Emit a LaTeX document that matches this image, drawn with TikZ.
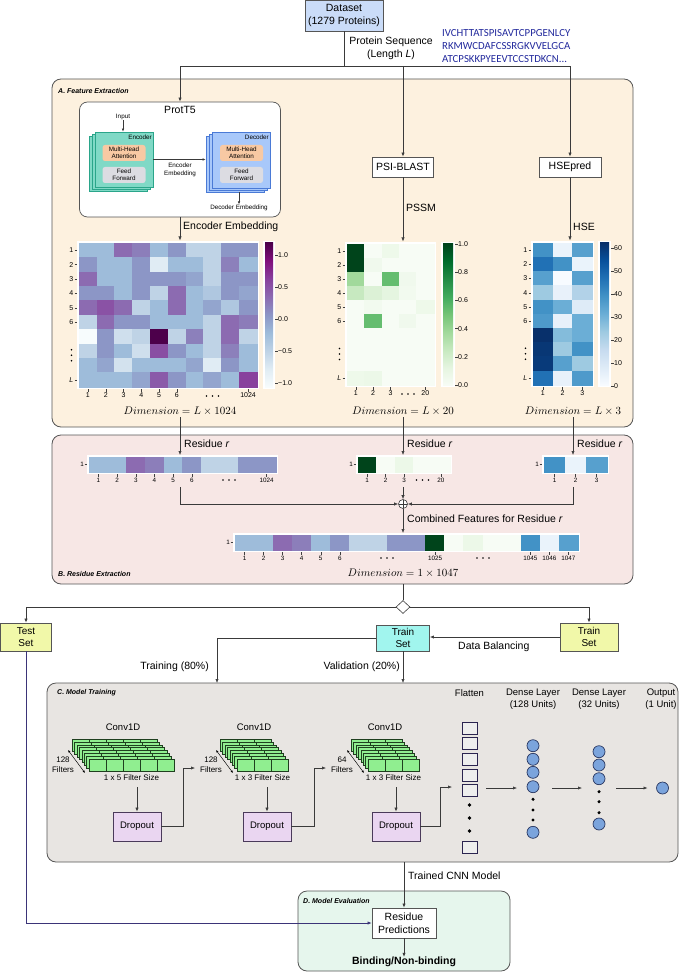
\documentclass[tikz,border=0pt]{standalone}
\usepackage{fontspec}
\setmainfont{Liberation Sans}
\newfontfamily\seqfont{Carlito}
\usetikzlibrary{arrows.meta,calc,positioning,shapes.geometric}

\definecolor{linegray}{HTML}{3A3A3A}
\definecolor{boxgray}{HTML}{555555}
\definecolor{featfill}{HTML}{FDF1DF}
\definecolor{resfill}{HTML}{F7E7E5}
\definecolor{trainfill}{HTML}{E8E5E2}
\definecolor{evalfill}{HTML}{E6F6ED}
\definecolor{datafill}{HTML}{CADCF8}
\definecolor{seqblue}{HTML}{22299C}
\definecolor{encfill}{HTML}{80D9C6}
\definecolor{encdraw}{HTML}{2AA58A}
\definecolor{decfill}{HTML}{A8C8FA}
\definecolor{decdraw}{HTML}{4A7AD6}
\definecolor{attfill}{HTML}{F8C9A3}
\definecolor{ffwfill}{HTML}{DCDCE2}
\definecolor{setfill}{HTML}{F1F8A9}
\definecolor{balfill}{HTML}{A1F5EE}
\definecolor{convfill}{HTML}{90EE90}
\definecolor{convdraw}{HTML}{1F3F1F}
\definecolor{dropfill}{HTML}{EAD6F1}
\definecolor{dropdraw}{HTML}{4A3A5A}
\definecolor{unitfill}{HTML}{7BA4DC}
\definecolor{unitdraw}{HTML}{283660}
\definecolor{flatfill}{HTML}{EEEEEE}
\definecolor{flatdraw}{HTML}{2B2450}
\definecolor{testline}{HTML}{3B3478}
% heat map colours
\definecolor{bp0}{HTML}{F7FCFD}\definecolor{bp1}{HTML}{E0ECF4}\definecolor{bp2}{HTML}{BFD3E6}
\definecolor{bp3}{HTML}{9EBCDA}\definecolor{bp4}{HTML}{8C96C6}\definecolor{bp5}{HTML}{8C6BB1}
\definecolor{bp6}{HTML}{88419D}\definecolor{bp7}{HTML}{810F7C}\definecolor{bp8}{HTML}{4D004B}
\definecolor{gn0}{HTML}{F7FCF5}\definecolor{gn1}{HTML}{E5F5E0}\definecolor{gn2}{HTML}{C7E9C0}
\definecolor{gn3}{HTML}{A1D99B}\definecolor{gn4}{HTML}{74C476}\definecolor{gn5}{HTML}{41AB5D}
\definecolor{gn6}{HTML}{238B45}\definecolor{gn7}{HTML}{006D2C}\definecolor{gn8}{HTML}{00441B}
\definecolor{bl0}{HTML}{F7FBFF}\definecolor{bl1}{HTML}{DEEBF7}\definecolor{bl2}{HTML}{C6DBEF}
\definecolor{bl3}{HTML}{9ECAE1}\definecolor{bl4}{HTML}{6BAED6}\definecolor{bl5}{HTML}{4292C6}
\definecolor{bl6}{HTML}{2171B5}\definecolor{bl7}{HTML}{08519C}\definecolor{bl8}{HTML}{08306B}

\pgfdeclareverticalshading{bupubar}{100bp}{color(0bp)=(bp0); color(25bp)=(bp0); color(31.25bp)=(bp1); color(37.5bp)=(bp2); color(43.75bp)=(bp3); color(50bp)=(bp4); color(56.25bp)=(bp5); color(62.5bp)=(bp6); color(68.75bp)=(bp7); color(75bp)=(bp8); color(100bp)=(bp8)}
\pgfdeclareverticalshading{greenbar}{100bp}{color(0bp)=(gn0); color(25bp)=(gn0); color(31.25bp)=(gn1); color(37.5bp)=(gn2); color(43.75bp)=(gn3); color(50bp)=(gn4); color(56.25bp)=(gn5); color(62.5bp)=(gn6); color(68.75bp)=(gn7); color(75bp)=(gn8); color(100bp)=(gn8)}
\pgfdeclareverticalshading{bluebar}{100bp}{color(0bp)=(bl0); color(25bp)=(bl0); color(31.25bp)=(bl1); color(37.5bp)=(bl2); color(43.75bp)=(bl3); color(50bp)=(bl4); color(56.25bp)=(bl5); color(62.5bp)=(bl6); color(68.75bp)=(bl7); color(75bp)=(bl8); color(100bp)=(bl8)}

\tikzset{
  arr/.style={-{Latex[length=4pt,width=3.2pt]}, draw=linegray, line width=0.6pt},
  smallarr/.style={-{Latex[length=3pt,width=2.5pt]}, draw=linegray, line width=0.5pt},
  dblarr/.style={{Latex[length=2.6pt,width=2.2pt]}-{Latex[length=2.6pt,width=2.2pt]}, line width=0.45pt},
  conn/.style={draw=linegray, line width=0.6pt},
  stage/.style={draw=boxgray, line width=0.8pt, rounded corners=9pt},
  stagelbl/.style={anchor=west, inner sep=0pt, font=\fontsize{7}{8}\selectfont\bfseries\itshape},
  lbl/.style={inner sep=0pt, align=center, font=\fontsize{10.5}{13}\selectfont},
  midlbl/.style={inner sep=0pt, align=center, font=\fontsize{9.5}{12}\selectfont},
  smalllbl/.style={inner sep=0pt, align=center, font=\fontsize{8}{10}\selectfont},
  tinylbl/.style={inner sep=0pt, align=center, font=\fontsize{6.3}{7.3}\selectfont},
  dimlbl/.style={inner sep=2pt, font=\fontsize{11}{13}\selectfont},
  box/.style={draw=boxgray, line width=0.7pt, inner sep=0pt, align=center, font=\fontsize{10.5}{13}\selectfont},
  setbox/.style={box, font=\fontsize{10}{12.5}\selectfont},
  sublayer/.style={rounded corners=2.5pt, minimum width=43, minimum height=16, inner sep=0pt, align=center, font=\fontsize{6.3}{7.3}\selectfont},
  encbox/.style={draw=encdraw, fill=encfill, line width=0.8pt, minimum width=58, minimum height=55, inner sep=0pt},
  decbox/.style={draw=decdraw, fill=decfill, line width=0.8pt, minimum width=58, minimum height=56, inner sep=0pt},
  convcell/.style={draw=convdraw, fill=convfill, line width=0.45pt},
  dropbox/.style={draw=dropdraw, fill=dropfill, line width=0.7pt, minimum width=48, minimum height=29, inner sep=0pt, font=\fontsize{9.5}{12}\selectfont},
  flatbox/.style={draw=flatdraw, fill=flatfill, line width=0.7pt, minimum width=15, minimum height=12, inner sep=0pt},
  unitnode/.style={circle, draw=unitdraw, fill=unitfill, line width=0.7pt, minimum size=12, inner sep=0pt},
  tickline/.style={draw=black!75, line width=0.4pt},
  ticklbl/.style={inner sep=0pt, font=\fontsize{7}{8}\selectfont},
  bartick/.style={inner sep=0pt, font=\fontsize{6.3}{7}\selectfont},
}

% cells of a heat map: left, top, cell width, cell height, rows of colours
\newcommand{\heatcells}[5]{%
  \foreach \crow [count=\j] in {#5} {
    \foreach \ccol [count=\i] in \crow
      \path[fill=\ccol,draw=\ccol,line width=0.25pt] ({#1+(\i-1)*#3},{#2+(\j-1)*#4}) rectangle ++(#3,#4);
  }}
\newcommand{\vdotsat}[2]{\foreach \k in {-1,0,1} \fill ({#1},{#2+\k*5.5}) circle (0.9);}
\newcommand{\hdotsat}[2]{\foreach \k in {-1,0,1} \fill ({#1+\k*6},{#2}) circle (0.9);}
% row ticks: prefix, left of cells, top, row height
\newcommand{\rowticks}[4]{%
  \foreach \r/\t in {1/1,2/2,3/3,4/4,5/5,6/6,10/\textit{L}} {
    \draw[tickline] ({#2-4.5},{#3+(\r-0.5)*#4}) -- ++(2.5,0);
    \node[ticklbl,anchor=east] (#1r\r) at ({#2-5.5},{#3+(\r-0.5)*#4}) {\t};
  }
  \vdotsat{#2-7.5}{#3+7.8*#4}}
% column ticks: [style] prefix, left of cells, bottom of frame, cell width, list
\newcommand{\colticks}[6][ticklbl]{%
  \foreach \c/\t in {#6} {
    \draw[tickline] ({#3+(\c-0.5)*#5},#4) -- ++(0,2.5);
    \node[#1,anchor=north] (#2c\c) at ({#3+(\c-0.5)*#5},{#4+3.5}) {\t};
  }}

\begin{document}
\begin{tikzpicture}[x=1pt,y=-1pt]
\useasboundingbox (0,0) rectangle (685,973);

% stage frames
\draw[stage,fill=featfill] (52,79) rectangle (633,427);
\draw[stage,fill=resfill] (52,435) rectangle (633,584);
\draw[stage,fill=trainfill] (47,683) rectangle (678,862);
\draw[stage,fill=evalfill] (298,891) rectangle (510,971);
\node[stagelbl] (stageA) at (58,91) {A. Feature Extraction};
\node[stagelbl] (stageB) at (58,574) {B. Residue Extraction};
\node[stagelbl] (stageC) at (57,693) {C. Model Training};
\node[stagelbl] (stageD) at (303,901) {D. Model Evaluation};

% dataset
\node[box,fill=datafill,minimum width=78,minimum height=31] (data) at (344,15.5) {Dataset\\(1279 Proteins)};
\node[lbl] (seqlbl) at (391,48.5) {Protein Sequence\\(Length \textit{L})};
\node[anchor=west,inner sep=0pt,align=left,text=seqblue,font=\seqfont\fontsize{10.8}{13}\selectfont] (seq) at (442,46.5) {IVCHTTATSPISAVTCPPGENLCY\\RKMWCDAFCSSRGKVVELGCA\\ATCPSKKPYEEVTCCSTDKCN...};
\coordinate (fork) at (344,66);

% A. feature extraction
\node[draw=boxgray,fill=white,line width=0.7pt,rounded corners=8pt,minimum width=201,minimum height=115] (prot) at (180,159.5) {};
\node[lbl] (protname) at (180,110) {ProtT5};
\node[box,fill=white,minimum width=61,minimum height=20] (psi) at (403,167) {PSI-BLAST};
\node[box,fill=white,minimum width=62,minimum height=20] (hsepred) at (570,167) {HSEpred};
\draw[conn] (data.south) -- (fork);
\draw[arr] (fork) -| (prot.north);
\draw[arr] (fork) -| (hsepred.north);
\draw[arr] (psi.north |- fork) -- (psi.north);

% encoder and decoder
\foreach \k in {2,1}
  \node[encbox] (enc\k) at ({124-3*\k},{159.5+2*\k}) {};
\node[encbox] (enc) at (124,159.5) {};
\node[tinylbl,anchor=north east] (enclbl) at (152,134.5) {Encoder};
\node[sublayer,fill=attfill] (encatt) at (124,153) {Multi-Head\\Attention};
\node[sublayer,fill=ffwfill] (encff) at (124,175) {Feed\\Forward};
\foreach \k in {2,1}
  \node[decbox] (dec\k) at ({241-3*\k},{160+2*\k}) {};
\node[decbox] (dec) at (241,160) {};
\node[tinylbl,anchor=north east] (declbl) at (269,134.5) {Decoder};
\node[sublayer,fill=attfill] (decatt) at (241.5,153) {Multi-Head\\Attention};
\node[sublayer,fill=ffwfill] (decff) at (241.5,175) {Feed\\Forward};
\node[tinylbl] (input) at (123,117) {Input};
\draw[smallarr] (input.south) -- (input.south |- enc.north);
\draw[smallarr] (enc.east) -- (enc.east -| dec2.west);
\node[tinylbl] (encemb) at (180,170) {Encoder\\Embedding};
\node[tinylbl] (decemb) at (239,207.5) {Decoder Embedding};
\draw[smallarr] (decemb.north |- dec2.south) -- (decemb.north);

% outputs of the three tools
\coordinate (hm1top) at (180,240.5);
\coordinate (hm2top) at (403,241.5);
\coordinate (hm3top) at (570,240.5);
\draw[arr] (prot.south) -- (hm1top);
\draw[arr] (psi.south) -- (hm2top);
\draw[arr] (hsepred.south) -- (hm3top);
\node[lbl,anchor=west] (embl) at (183,227) {Encoder Embedding};
\node[lbl,anchor=west] (pssm) at (406,208) {PSSM};
\node[lbl,anchor=west] (hse) at (573,227) {HSE};

% ProtT5 heat map
\fill[white] (77,241) rectangle (259,389);
\heatcells{79}{243}{17.8}{14.4}{
 {bp3,bp3,bp5,bp5!55!bp4,bp3,bp4,bp2,bp2,bp4,bp4},
 {bp4,bp3,bp3,bp4,bp1,bp3,bp3,bp2,bp4!50!bp5,bp3},
 {bp5,bp3,bp3,bp4,bp4,bp4,bp4!60!bp3,bp2,bp4,bp4},
 {bp4,bp4,bp3,bp4,bp2,bp5,bp3,bp2!50!bp3,bp4,bp4!60!bp3},
 {bp5,bp6!60!bp5,bp5,bp2,bp3,bp5,bp3,bp4!60!bp3,bp2!50!bp3,bp4},
 {bp2,bp5,bp4,bp4,bp3,bp3,bp3,bp2,bp5,bp5!60!bp4},
 {bp0,bp4,bp1!50!bp2,bp2,bp8,bp2,bp4!50!bp5,bp2,bp5,bp2},
 {bp2,bp4,bp3,bp1!50!bp2,bp6!70!bp5,bp4,bp3,bp2,bp4!50!bp5,bp3},
 {bp3,bp4!60!bp3,bp1!60!bp2,bp3,bp3,bp3,bp4!60!bp3,bp1,bp4,bp3},
 {bp3,bp3,bp3,bp4!60!bp3,bp5!60!bp6,bp4,bp3,bp4!60!bp3,bp3,bp6}}
\rowticks{hma}{79}{243}{14.4}
\colticks{hma}{79}{389}{17.8}{1/1,2/2,3/3,4/4,5/5,6/6,10/1024}
\hdotsat{212.5}{396}
\fill[white] (263,241) rectangle (275,389);
\shade[shading=bupubar] (265,243) rectangle (273,387);
\foreach \v/\y in {1.0/255,0.5/287,0.0/319,−0.5/351,−1.0/383} {
  \draw[tickline] (275,\y) -- (277.5,\y);
  \node[ticklbl,anchor=west] at (278,\y) {\v};
}

% PSSM heat map
\fill[white] (345,242) rectangle (436,387);
\heatcells{347}{244}{17.4}{14.1}{
 {gn8,gn0,gn1!50!gn0,gn0,gn0},
 {gn8,gn1!40!gn0,gn0,gn0,gn0},
 {gn3,gn0,gn4!70!gn5,gn1!40!gn0,gn0},
 {gn2,gn1!70!gn2,gn1,gn1!30!gn0,gn0},
 {gn0,gn1!30!gn0,gn0,gn0,gn1!50!gn0},
 {gn0,gn4!70!gn5,gn0,gn1!40!gn0,gn0},
 {gn0,gn0,gn0,gn0,gn0},
 {gn0,gn0,gn0,gn0,gn0},
 {gn0,gn0,gn0,gn0,gn0},
 {gn1!50!gn0,gn1!60!gn0,gn0,gn0,gn0}}
\rowticks{hmb}{347}{244}{14.1}
\colticks{hmb}{347}{387}{17.4}{1/1,2/2,3/3,5/20}
\hdotsat{407.9}{394}
\fill[white] (441,242) rectangle (455,387);
\shade[shading=greenbar] (443,244) rectangle (453,385);
\foreach \v/\y in {1.0/244,0.8/272.2,0.6/300.4,0.4/328.6,0.2/356.8,0.0/385} {
  \draw[tickline] (455,\y) -- (457.5,\y);
  \node[ticklbl,anchor=west] at (458,\y) {\v};
}

% HSE heat map
\fill[white] (531,241) rectangle (594,387);
\heatcells{533}{243}{19.7}{14.2}{
 {bl5,bl1!50!bl0,bl5!50!bl4},
 {bl6,bl5,bl0!50!bl1},
 {bl4!50!bl5,bl0,bl4!50!bl5},
 {bl3,bl1!60!bl0,bl2!50!bl3},
 {bl5,bl4,bl1},
 {bl5!70!bl4,bl1!60!bl0,bl4},
 {bl8,bl3!50!bl4,bl4},
 {bl8!80!bl7,bl3,bl5},
 {bl8!70!bl7,bl4!50!bl5,bl3},
 {bl6,bl1!60!bl0,bl5!70!bl4}}
\rowticks{hmc}{533}{243}{14.2}
\colticks{hmc}{533}{387}{19.7}{1/1,2/2,3/3}
\fill[white] (598,241) rectangle (611,387);
\shade[shading=bluebar] (600,243) rectangle (609,385);
\foreach \v/\y in {60/248,50/271,40/294,30/317,20/340,10/363,0/386} {
  \draw[tickline] (611,\y) -- (613.5,\y);
  \node[ticklbl,anchor=west] at (614,\y) {\v};
}

\node[dimlbl] (dim1) at (180,411) {$Dimension=L\times1024$};
\node[dimlbl] (dim2) at (403,411) {$Dimension=L\times20$};
\node[dimlbl] (dim3) at (573,411) {$Dimension=L\times3$};

% B. residue extraction
\coordinate (bar1top) at (180,455);
\coordinate (bar2top) at (403,455);
\coordinate (bar3top) at (573,455);
\draw[arr] (dim1.south) -- (bar1top);
\draw[arr] (dim2.south) -- (bar2top);
\draw[arr] (dim3.south) -- (bar3top);
\node[lbl,anchor=west] (resr1) at (184,444) {Residue \textit{r}};
\node[lbl,anchor=west] (resr2) at (407,444) {Residue \textit{r}};
\node[lbl,anchor=west] (resr3) at (577,444) {Residue \textit{r}};

\fill[white] (87,455) rectangle (278,474);
\heatcells{89}{457}{18.7}{15}{{bp3,bp3,bp5,bp5!55!bp4,bp3,bp4,bp2,bp2,bp4,bp4}}
\draw[tickline] (84.5,464.5) -- (87,464.5);
\node[bartick,anchor=east] (bara) at (84,464.5) {1};
\colticks[bartick]{bara}{89}{474}{18.7}{1/1,2/2,3/3,4/4,5/5,6/6,10/1024}
\hdotsat{229}{480}

\fill[white] (356,455) rectangle (452,474);
\heatcells{358}{457}{18.4}{15}{{gn8,gn0,gn1!60!gn0,gn0,gn0}}
\draw[tickline] (353.5,464.5) -- (356,464.5);
\node[bartick,anchor=east] (barb) at (353,464.5) {1};
\colticks[bartick]{barb}{358}{474}{18.4}{1/1,2/2,3/3,5/20}
\hdotsat{422.4}{480}

\fill[white] (542,455) rectangle (609,474);
\heatcells{544}{457}{21}{15}{{bl5,bl1!50!bl0,bl5!50!bl4}}
\draw[tickline] (539.5,464.5) -- (542,464.5);
\node[bartick,anchor=east] (barc) at (539,464.5) {1};
\colticks[bartick]{barc}{544}{474}{21}{1/1,2/2,3/3}

\coordinate (r1) at (180,487);
\coordinate (r2) at (403,487);
\coordinate (r3) at (573,487);
\node[draw=linegray,circle,minimum size=9,inner sep=0pt,line width=0.6pt,fill=white,
  path picture={\draw[linegray,line width=0.5pt] (path picture bounding box.north) -- (path picture bounding box.south) (path picture bounding box.west) -- (path picture bounding box.east);}] (plus) at (403,504) {};
\draw[arr] (r1) |- (plus.west);
\draw[arr] (r2) -- (plus.north);
\draw[arr] (r3) |- (plus.east);
\coordinate (combtop) at (403,533);
\draw[arr] (plus.south) -- (combtop);
\node[lbl,anchor=west] (comblbl) at (407,519) {Combined Features for Residue \textit{r}};

\fill[white] (233,533) rectangle (580,552);
\heatcells{235}{535}{19.05}{15}{{bp3,bp3,bp5,bp5!55!bp4,bp3,bp4,bp2,bp2,bp4,bp4,gn8,gn0,gn1!60!gn0,gn0,gn0,bl5,bl1!50!bl0,bl5!50!bl4}}
\draw[tickline] (230.5,542.5) -- (233,542.5);
\node[bartick,anchor=east] (bard) at (230,542.5) {1};
\colticks[bartick]{bard}{235}{552}{19.05}{1/1,2/2,3/3,4/4,5/5,6/6,11/1025,16/1045,17/1046,18/1047}
\hdotsat{387}{558}
\hdotsat{483}{558}
\node[dimlbl] (dim4) at (403,573) {$Dimension=1\times1047$};

% data split
\coordinate (resout) at (403,584);
\node[draw=linegray,diamond,fill=white,minimum width=14,minimum height=13,inner sep=0pt,line width=0.6pt] (choice) at (403,607) {};
\draw[conn] (resout) -- (choice.north);
\node[setbox,fill=setfill,minimum width=51,minimum height=28] (testset) at (26,637) {Test\\Set};
\node[setbox,fill=balfill,minimum width=53,minimum height=26] (trainbal) at (403,638) {Train\\Set};
\node[setbox,fill=setfill,minimum width=58,minimum height=28] (trainset) at (589,637) {Train\\Set};
\draw[arr] (choice.west) -| (testset.north);
\draw[arr] (choice.east) -| (trainset.north);
\draw[arr] (trainset.west) -- (trainset.west -| trainbal.east);
\node[lbl,anchor=west] (ballbl) at (458,647) {Data Balancing};
\coordinate (trainin) at (217,683);
\coordinate (valin) at (403,683);
\draw[arr] (trainbal.west) -| (trainin);
\draw[arr] (trainbal.south) -- (valin);
\node[lbl,anchor=east] (trainlbl) at (209,667) {Training (80\%)};
\node[lbl,anchor=east] (vallbl) at (400,667) {Validation (20\%)};

% C. model training
\foreach \bx/\nc/\nf/\dx [count=\b] in {89/5/128/137,237/3/128/267,368/3/64/396} {
  \foreach \k in {7,6,...,0}
    \foreach \c in {1,...,\nc}
      \draw[convcell] ({\bx+(\c-1)*17-\k*2.4},{759-\k*2.85}) rectangle ++(17,12);
  \node[midlbl] (conv\b) at ({\bx+\nc*8.5-8.5},727) {Conv1D};
  \node[smalllbl] (size\b) at ({\bx+\nc*8.5},778) {1 x \nc\ Filter Size};
  \node[smalllbl] (filt\b) at ({\bx-26},765) {\nf\\Filters};
  \draw[dblarr] ({\bx-21},750) -- ({\bx-4},773);
  \node[dropbox] (drop\b) at (\dx,826.5) {Dropout};
  \coordinate (cout\b) at (\dx,787);
  \draw[arr] (cout\b) -- (drop\b.north);
  \coordinate (cin\b) at ({\bx-42},768);
}
\coordinate (flatin) at (452,787);
\draw[arr] (drop1.east) -| ($(cin2)+(-12,0)$) -- (cin2);
\draw[arr] (drop2.east) -| ($(cin3)+(-12,0)$) -- (cin3);
\draw[arr] (drop3.east) -| ($(flatin)+(-12,0)$) -- (flatin);

% flatten and dense layers
\node[midlbl] (flatlbl) at (469.5,693) {Flatten};
\foreach \y [count=\n] in {728,743.7,759.3,775,790.7}
  \node[flatbox] (flat\n) at (469.5,\y) {};
\node[flatbox] (flat6) at (469.5,847.5) {};
\foreach \y in {805,818,831} \fill (469.5,\y) circle (1.9);

\node[midlbl] (dens1lbl) at (533,699) {Dense Layer\\(128 Units)};
\foreach \y [count=\n] in {745.7,759.3,772.3,786.7,832.3}
  \node[unitnode] (da\n) at (533,\y) {};
\foreach \y in {799.3,810,820} \fill (533,\y) circle (1.7);

\node[midlbl] (dens2lbl) at (599,699) {Dense Layer\\(32 Units)};
\foreach \y [count=\n] in {751.7,765,778.7,824}
  \node[unitnode] (db\n) at (599,\y) {};
\foreach \y in {791.7,801.7,812.7} \fill (599,\y) circle (1.7);

\node[midlbl] (outlbl) at (661,699) {Output\\(1 Unit)};
\node[unitnode] (outunit) at (662.5,788) {};

\coordinate (flatout) at (486,788);
\coordinate (daIn) at (517,788);
\coordinate (daOut) at (552,788);
\coordinate (dbIn) at (582,788);
\coordinate (dbOut) at (616,788);
\coordinate (outIn) at (647.5,788);
\draw[arr] (flatout) -- (daIn);
\draw[arr] (daOut) -- (dbIn);
\draw[arr] (dbOut) -- (outIn);

% D. model evaluation
\node[box,fill=white,minimum width=64,minimum height=30] (pred) at (404,923) {Residue\\Predictions};
\coordinate (cnnout) at (404,862);
\draw[arr] (cnnout) -- (pred.north);
\node[lbl,anchor=west] (cnnlbl) at (408,876) {Trained CNN Model};
\draw[arr,draw=testline] (testset.south) |- (pred.west);
\node[lbl,font=\fontsize{10.5}{13}\selectfont\bfseries] (bind) at (404,962) {Binding/Non-binding};
\draw[arr] (pred.south) -- (bind.north);
\end{tikzpicture}
\end{document}
